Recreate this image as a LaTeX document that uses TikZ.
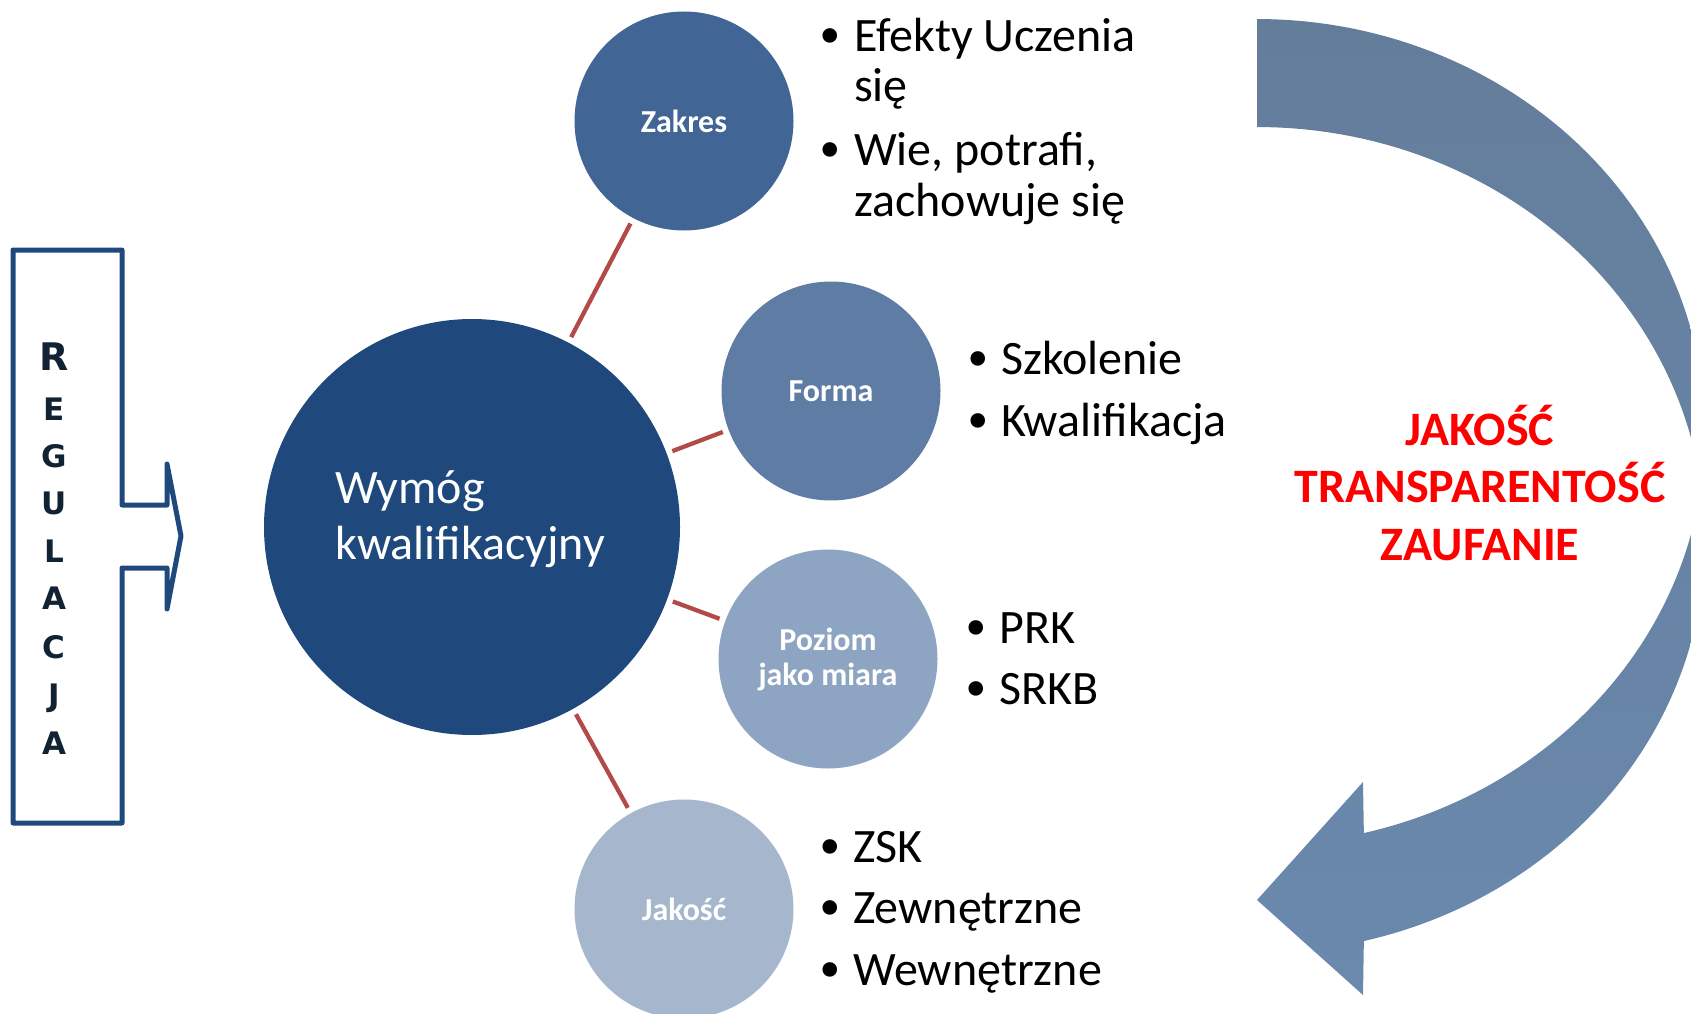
\documentclass[tikz,border=0pt]{standalone}
\usepackage{fontspec}
\setmainfont{Carlito}
\newfontfamily\bulfont{DejaVu Sans}
\newfontfamily\letfont{DejaVu Sans}
\definecolor{mainblue}{RGB}{31,73,125}
\definecolor{zakresc}{RGB}{65,101,148}
\definecolor{formac}{RGB}{95,125,164}
\definecolor{poziomc}{RGB}{141,165,194}
\definecolor{jakoscc}{RGB}{165,182,205}
\definecolor{linkred}{RGB}{178,74,72}
\definecolor{letterc}{RGB}{17,34,51}
\definecolor{arrowtop}{RGB}{100,125,155}
\definecolor{arrowbot}{RGB}{106,137,173}
\definecolor{redtxt}{RGB}{255,0,0}
\begin{document}
\begin{tikzpicture}[x=1pt,y=-1pt,
  bub/.style={circle,inner sep=0pt,minimum size=219pt,text=white,font=\fontsize{32}{35}\selectfont\bfseries,align=center},
  link/.style={draw=linkred,line width=4.3pt,shorten >=6pt,shorten <=6pt},
  itemtxt/.style={anchor=base west,inner sep=0pt,font=\fontsize{48}{51}\selectfont},
  bul/.style={anchor=base,inner sep=0pt,font=\bulfont\fontsize{50}{51}\selectfont},
  letter/.style={anchor=base,inner sep=0pt,text=letterc,font=\letfont\fontsize{31}{31}\selectfont\bfseries},
  bigletter/.style={letter,font=\letfont\fontsize{38}{38}\selectfont\bfseries},
  redlabel/.style={align=center,anchor=base,inner sep=0pt,text=redtxt,font=\fontsize{48}{57.5}\selectfont\bfseries}
]
\useasboundingbox (0,0) rectangle (1691,1014);

% big curved arrow (two elliptic arcs, vertically offset)
\begin{scope}
\clip (0,0) rectangle (1691,1014);
\shade[top color=arrowtop,bottom color=arrowbot]
  plot[domain=90:0,samples=60] ({1257+448*cos(\x)},{432-413*sin(\x)})
  -- plot[domain=0:-76.2,samples=60] ({1257+448*cos(\x)},{540-413*sin(\x)})
  -- (1363,995) -- (1257,900) -- (1363,782)
  -- plot[domain=-76.2:0,samples=60] ({1257+448*cos(\x)},{432-413*sin(\x)})
  -- plot[domain=0:90,samples=60] ({1257+448*cos(\x)},{540-413*sin(\x)})
  -- cycle;
\end{scope}

% regulacja arrow box
\coordinate (ra) at (13,250);
\draw[mainblue,line width=5pt,line join=round] (ra) -- (122,250) -- (122,505) -- (167,505) -- (167,464) -- (181,536) -- (167,609) -- (167,568) -- (122,568) -- (122,823) -- (13,823) -- cycle;
\node[bigletter] (l1) at (54,370) {R};
\node[letter] (l2) at (54,420) {E};
\node[letter] (l3) at (54,467) {G};
\node[letter] (l4) at (54,514) {U};
\node[letter] (l5) at (54,562) {L};
\node[letter] (l6) at (54,609) {A};
\node[letter] (l7) at (54,658) {C};
\node[letter] (l8) at (54,706) {J};
\node[letter] (l9) at (54,754) {A};

% circles
\node[circle,inner sep=0pt,minimum size=416pt,fill=mainblue] (main) at (472,527) {};
\node[anchor=base west,inner sep=0pt,align=left,text=white,font=\fontsize{48}{56}\selectfont] (maintxt) at (335,559) {Wymóg\\kwalifikacyjny};
\node[bub,fill=zakresc] (zakres) at (684,121) {Zakres};
\node[bub,fill=formac] (forma) at (831,391) {Forma};
\node[bub,fill=poziomc] (poziom) at (828,659) {Poziom\\jako miara};
\node[bub,fill=jakoscc] (jakosc) at (684,909) {Jakość};

\draw[link] (main) -- (zakres);
\draw[link] (main) -- (forma);
\draw[link] (main) -- (poziom);
\draw[link] (main) -- (jakosc);

% list 1
\node[bul] (b11) at (830,55) {•};
\node[itemtxt] (t11) at (854,52) {Efekty Uczenia};
\node[itemtxt] (t12) at (854,102) {się};
\node[bul] (b12) at (830,168) {•};
\node[itemtxt] (t13) at (854,165) {Wie, potrafi,};
\node[itemtxt] (t14) at (854,216) {zachowuje się};
% list 2
\node[bul] (b21) at (978,377) {•};
\node[itemtxt] (t21) at (1001,374) {Szkolenie};
\node[bul] (b22) at (978,439) {•};
\node[itemtxt] (t22) at (1001,436) {Kwalifikacja};
% list 3
\node[bul] (b31) at (976,646) {•};
\node[itemtxt] (t31) at (999,643) {PRK};
\node[bul] (b32) at (976,707) {•};
\node[itemtxt] (t32) at (999,704) {SRKB};
% list 4
\node[bul] (b41) at (830,865) {•};
\node[itemtxt] (t41) at (853,862) {ZSK};
\node[bul] (b42) at (830,926) {•};
\node[itemtxt] (t42) at (853,923) {Zewnętrzne};
\node[bul] (b43) at (830,988) {•};
\node[itemtxt] (t43) at (853,985) {Wewnętrzne};

% red text
\node[redlabel] (quality) at (1480,560) {JAKOŚĆ\\TRANSPARENTOŚĆ\\ZAUFANIE};
\end{tikzpicture}
\end{document}
